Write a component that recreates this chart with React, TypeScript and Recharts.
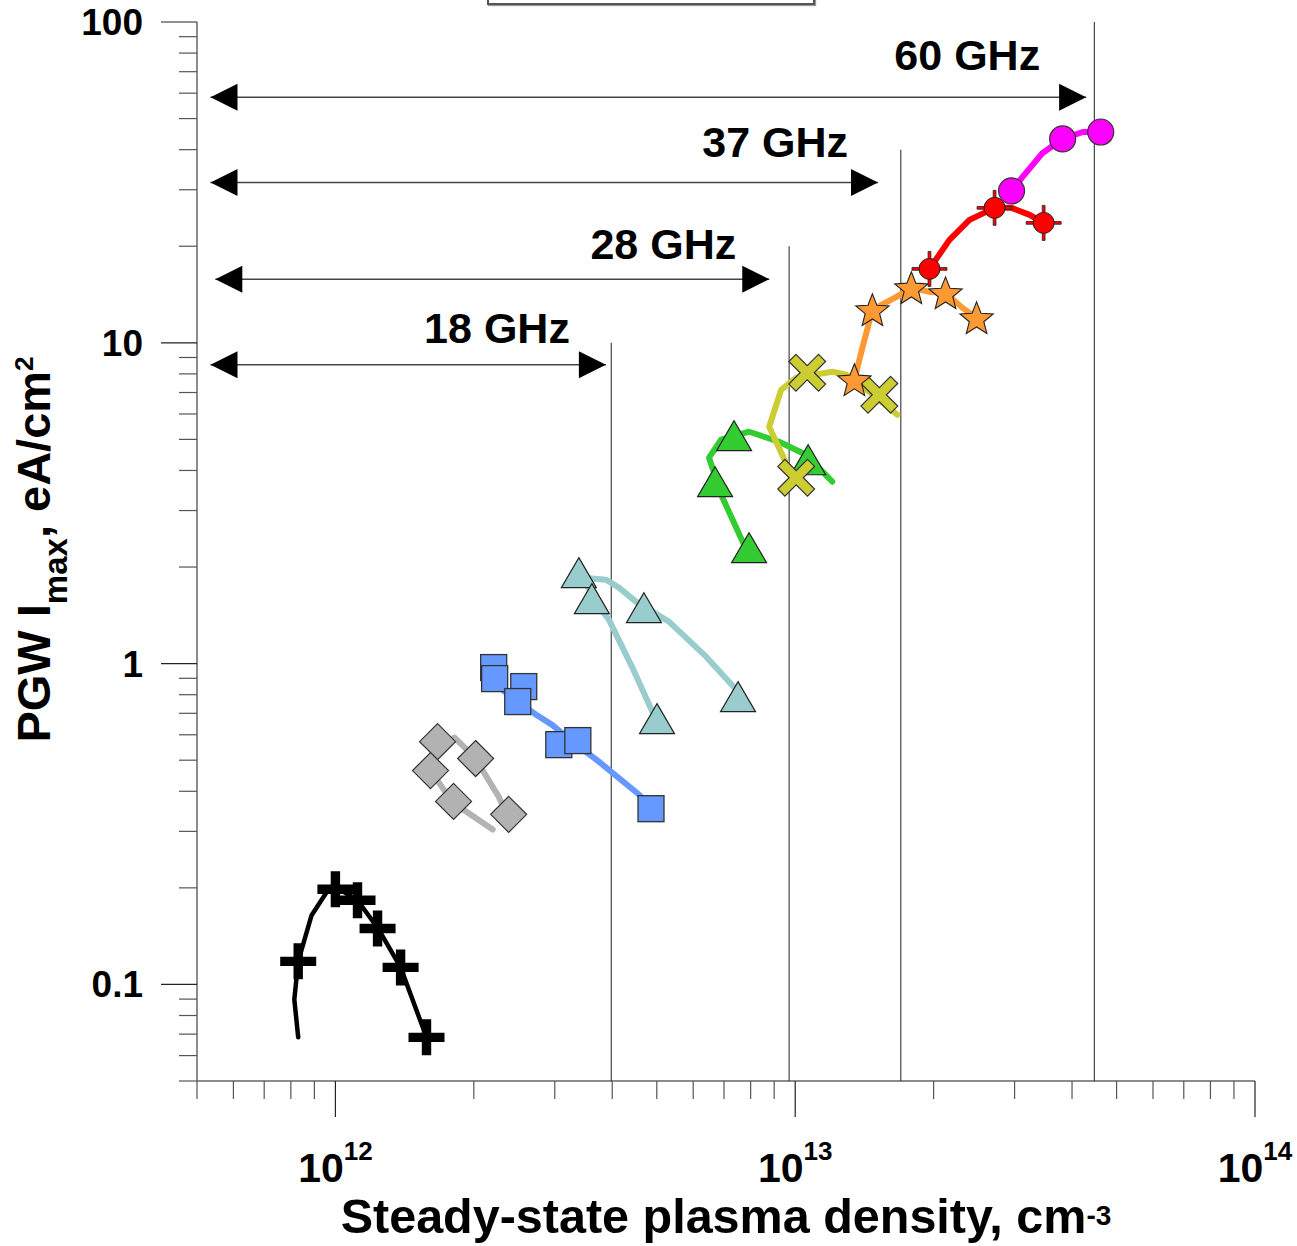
import React from 'react';
import { ComposedChart, Scatter, XAxis, YAxis } from 'recharts';

const FONT = '"Liberation Sans", Arial, Helvetica, sans-serif';

// ---------- axis ticks ----------
const xTicks = [
  5e11, 6e11, 7e11, 8e11, 9e11,
  1e12, 2e12, 3e12, 4e12, 5e12, 6e12, 7e12, 8e12, 9e12,
  1e13, 2e13, 3e13, 4e13, 5e13, 6e13, 7e13, 8e13, 9e13,
  1e14,
];
const yTicks = [
  0.05, 0.06, 0.07, 0.08, 0.09,
  0.1, 0.2, 0.3, 0.4, 0.5, 0.6, 0.7, 0.8, 0.9,
  1, 2, 3, 4, 5, 6, 7, 8, 9,
  10, 20, 30, 40, 50, 60, 70, 80, 90,
  100,
];

// ---------- cut-off frequencies ----------
const freqLabels = ['18 GHz', '28 GHz', '37 GHz', '60 GHz'];
const cutoffDensity = [3.98e12, 9.7e12, 1.697e13, 4.473e13];
const cutoffLineTop = [10, 20, 40, 100];
const arrowLevel = [8.54, 15.79, 31.6, 58.3];
const arrowStart = [5.35e11, 5.48e11, 5.35e11, 5.35e11];
const arrowEnd = [3.875e12, 8.78e12, 1.514e13, 4.293e13];
// label offsets relative to right arrow tip (pixels)
const labelDx = [-36, -33, -30, -46];
const labelDy = [-22, -20, -26, -27];

// ---------- data series (markers) ----------
const blackPts = [
  { x: 8.3e11, y: 0.118 }, { x: 1.0e12, y: 0.198 }, { x: 1.117e12, y: 0.183 },
  { x: 1.235e12, y: 0.1494 }, { x: 1.386e12, y: 0.113 }, { x: 1.578e12, y: 0.0684 },
];
const grayPts = [
  { x: 1.668e12, y: 0.571 }, { x: 2.018e12, y: 0.506 }, { x: 1.61e12, y: 0.464 },
  { x: 1.807e12, y: 0.372 }, { x: 2.381e12, y: 0.339 },
];
const bluePts = [
  { x: 2.209e12, y: 0.972 }, { x: 2.22e12, y: 0.898 }, { x: 2.568e12, y: 0.848 },
  { x: 2.492e12, y: 0.7615 }, { x: 3.061e12, y: 0.559 }, { x: 3.367e12, y: 0.5755 },
  { x: 4.857e12, y: 0.353 },
];
const cyanPts = [
  { x: 3.384e12, y: 1.921 }, { x: 3.612e12, y: 1.594 }, { x: 4.688e12, y: 1.494 },
  { x: 7.51e12, y: 0.789 }, { x: 5.005e12, y: 0.674 },
];
const greenPts = [
  { x: 7.362e12, y: 5.133 }, { x: 6.695e12, y: 3.69 }, { x: 7.937e12, y: 2.298 },
  { x: 1.067e13, y: 4.32 },
];
const yellowPts = [
  { x: 1.062e13, y: 8.065 }, { x: 1.524e13, y: 6.887 }, { x: 1.005e13, y: 3.797 },
];
const orangePts = [
  { x: 1.345e13, y: 7.668 }, { x: 1.472e13, y: 12.67 }, { x: 1.789e13, y: 14.84 },
  { x: 2.123e13, y: 14.31 }, { x: 2.48e13, y: 11.96 },
];
const redPts = [
  { x: 1.959e13, y: 17.0 }, { x: 2.714e13, y: 26.34 }, { x: 3.47e13, y: 23.65 },
];
const magentaPts = [
  { x: 2.955e13, y: 29.76 }, { x: 3.816e13, y: 43.2 }, { x: 4.618e13, y: 45.4 },
];

// ---------- fitted curves ----------
const blackLine = [
  { x: 8.3e11, y: 0.0684 }, { x: 8.14e11, y: 0.0898 }, { x: 8.3e11, y: 0.118 },
  { x: 8.87e11, y: 0.164 }, { x: 9.56e11, y: 0.1935 }, { x: 1.015e12, y: 0.199 },
  { x: 1.117e12, y: 0.183 }, { x: 1.24e12, y: 0.149 }, { x: 1.386e12, y: 0.113 },
  { x: 1.578e12, y: 0.0684 },
];
const grayLine = [
  { x: 2.198e12, y: 0.304 }, { x: 1.8e12, y: 0.369 }, { x: 1.61e12, y: 0.464 },
  { x: 1.677e12, y: 0.547 }, { x: 1.816e12, y: 0.588 }, { x: 2.009e12, y: 0.51 },
  { x: 2.265e12, y: 0.385 }, { x: 2.358e12, y: 0.339 },
];
const blueLine = [
  { x: 2.232e12, y: 0.86 }, { x: 2.492e12, y: 0.7615 }, { x: 2.728e12, y: 0.694 },
  { x: 2.955e12, y: 0.6455 }, { x: 3.234e12, y: 0.58 }, { x: 3.741e12, y: 0.495 },
  { x: 4.572e12, y: 0.391 }, { x: 4.857e12, y: 0.356 },
];
const cyanLine = [
  { x: 4.955e12, y: 0.679 }, { x: 4.414e12, y: 0.979 }, { x: 3.933e12, y: 1.371 },
  { x: 3.649e12, y: 1.582 }, { x: 3.47e12, y: 1.853 }, { x: 3.874e12, y: 1.827 },
  { x: 4.137e12, y: 1.725 }, { x: 4.503e12, y: 1.56 }, { x: 5.314e12, y: 1.352 },
  { x: 6.4e12, y: 1.051 }, { x: 7.437e12, y: 0.83 },
];
const greenLine = [
  { x: 7.937e12, y: 2.17 }, { x: 6.934e12, y: 3.313 }, { x: 6.496e12, y: 4.384 },
  { x: 6.899e12, y: 4.987 }, { x: 7.937e12, y: 5.282 }, { x: 9.228e12, y: 4.916 },
  { x: 1.056e13, y: 4.478 }, { x: 1.204e13, y: 3.69 },
];
const yellowLine = [
  { x: 9.703e12, y: 4.022 }, { x: 8.777e12, y: 5.474 }, { x: 9.322e12, y: 7.138 },
  { x: 1.005e13, y: 7.78 }, { x: 1.204e13, y: 8.124 }, { x: 1.292e13, y: 7.951 },
  { x: 1.428e13, y: 7.138 }, { x: 1.668e13, y: 5.968 },
];
const orangeLine = [
  { x: 1.345e13, y: 7.668 }, { x: 1.4e13, y: 9.647 }, { x: 1.472e13, y: 12.67 },
  { x: 1.66e13, y: 13.91 }, { x: 1.789e13, y: 14.84 }, { x: 1.959e13, y: 14.41 },
  { x: 2.123e13, y: 14.31 }, { x: 2.311e13, y: 12.85 }, { x: 2.48e13, y: 11.96 },
];
const redLine = [
  { x: 1.959e13, y: 17.0 }, { x: 2.165e13, y: 20.94 }, { x: 2.393e13, y: 24.16 },
  { x: 2.714e13, y: 26.34 }, { x: 2.955e13, y: 26.34 }, { x: 3.234e13, y: 25.05 },
  { x: 3.47e13, y: 23.65 },
];
const magentaLine = [
  { x: 2.955e13, y: 29.76 }, { x: 3.123e13, y: 32.89 }, { x: 3.452e13, y: 39.07 },
  { x: 3.816e13, y: 43.2 }, { x: 4.22e13, y: 45.4 }, { x: 4.618e13, y: 45.4 },
];

// ---------- derived tables ----------
const cutoffLines = cutoffDensity.map((c, i) => [
  { x: c, y: 0.05 },
  { x: c, y: cutoffLineTop[i] },
]);
const arrows = freqLabels.map((lab, i) => [
  { x: arrowStart[i], y: arrowLevel[i], dir: 'left', idx: i },
  { x: arrowEnd[i], y: arrowLevel[i], dir: 'right', idx: i, label: lab },
]);

// ---------- shapes ----------
const plusPath = (cx: number, cy: number, a: number, b: number) =>
  `M${cx - b},${cy - a}H${cx + b}V${cy - b}H${cx + a}V${cy + b}H${cx + b}V${cy + a}H${cx - b}V${cy + b}H${cx - a}V${cy - b}H${cx - b}Z`;

const NoShape = () => <g />;

const PlusShape = (p: any) => <path d={plusPath(p.cx, p.cy, 18, 4.7)} fill="#000" />;

const DiamondShape = (p: any) => {
  const r = 18;
  return (
    <polygon
      points={`${p.cx},${p.cy - r} ${p.cx + r},${p.cy} ${p.cx},${p.cy + r} ${p.cx - r},${p.cy}`}
      fill="#b2b2b2"
      stroke="#333"
      strokeWidth={1.2}
    />
  );
};

const SquareShape = (p: any) => (
  <rect x={p.cx - 13} y={p.cy - 13} width={26} height={26} fill="#6699ff" stroke="#333" strokeWidth={1.3} />
);

const makeTriangle = (fill: string) => (p: any) => (
  <polygon
    points={`${p.cx},${p.cy - 15} ${p.cx + 17.5},${p.cy + 15} ${p.cx - 17.5},${p.cy + 15}`}
    fill={fill}
    stroke="#222"
    strokeWidth={1.2}
    strokeLinejoin="miter"
  />
);
const CyanTri = makeTriangle('#99cccc');
const GreenTri = makeTriangle('#33cc33');

const XShape = (p: any) => (
  <path
    d={plusPath(0, 0, 21, 5)}
    transform={`translate(${p.cx},${p.cy}) rotate(45)`}
    fill="#cccc33"
    stroke="#333"
    strokeWidth={1.2}
  />
);

const StarShape = (p: any) => {
  const R = 17.5;
  const r = 7.6;
  const pts: string[] = [];
  for (let k = 0; k < 10; k++) {
    const ang = -Math.PI / 2 + (k * Math.PI) / 5;
    const rad = k % 2 === 0 ? R : r;
    pts.push(`${p.cx + rad * Math.cos(ang)},${p.cy + 1.5 + rad * Math.sin(ang)}`);
  }
  return <polygon points={pts.join(' ')} fill="#ff9933" stroke="#222" strokeWidth={1.1} />;
};

const RedShape = (p: any) => (
  <g>
    <path d={plusPath(p.cx, p.cy, 17.5, 1.4)} fill="#ff0000" stroke="#222" strokeWidth={0.8} />
    <circle cx={p.cx} cy={p.cy} r={10.5} fill="#ff0000" stroke="#222" strokeWidth={1} />
  </g>
);

const MagentaShape = (p: any) => (
  <circle cx={p.cx} cy={p.cy} r={13} fill="#ff00ff" stroke="#333" strokeWidth={1.2} />
);

const ArrowHead = (p: any) => {
  const { cx, cy, payload } = p;
  const L = 27;
  const h = 13.5;
  const left = payload.dir === 'left';
  const pts = left
    ? `${cx},${cy} ${cx + L},${cy - h} ${cx + L},${cy + h}`
    : `${cx},${cy} ${cx - L},${cy - h} ${cx - L},${cy + h}`;
  const i = payload.idx;
  return (
    <g>
      <polygon points={pts} fill="#000" />
      {!left && (
        <text
          x={cx + labelDx[i]}
          y={cy + labelDy[i]}
          textAnchor="end"
          fontFamily={FONT}
          fontWeight="bold"
          fontSize={43}
          fill="#000"
        >
          {payload.label}
        </text>
      )}
    </g>
  );
};

// ---------- ticks ----------
const isMajor = (v: number) => {
  const lg = Math.log10(v);
  return Math.abs(lg - Math.round(lg)) < 1e-6;
};

const XTick = (p: any) => {
  const { x, y, payload } = p;
  const v = payload.value;
  const major = isMajor(v);
  const exp = Math.round(Math.log10(v));
  return (
    <g>
      <line x1={x} x2={x} y1={y} y2={y + (major ? 36 : 18)} stroke={major ? '#222' : '#555'} strokeWidth={1.2} />
      {major && (
        <text x={x} y={y + 101} textAnchor="middle" fontFamily={FONT} fontWeight="bold" fontSize={41} fill="#000">
          10
          <tspan dy={-22} fontSize={26}>
            {exp}
          </tspan>
        </text>
      )}
    </g>
  );
};

const YTick = (p: any) => {
  const { x, y, payload } = p;
  const v = payload.value;
  const major = isMajor(v);
  return (
    <g>
      <line x1={x - (major ? 36 : 18)} x2={x} y1={y} y2={y} stroke={major ? '#222' : '#555'} strokeWidth={1.2} />
      {major && (
        <text x={x - 54} y={y + 13} textAnchor="end" fontFamily={FONT} fontWeight="bold" fontSize={37} fill="#000">
          {String(v)}
        </text>
      )}
    </g>
  );
};

const XTitle = (p: any) => {
  const vb = p.viewBox || { x: 197, y: 1081, width: 1058, height: 165 };
  return (
    <text
      x={vb.x + vb.width / 2}
      y={vb.y + 152}
      textAnchor="middle"
      fontFamily={FONT}
      fontWeight="bold"
      fontSize={48.5}
      fill="#000"
    >
      Steady-state plasma density, cm
      <tspan dy={-8} fontSize={28}>
        -3
      </tspan>
    </text>
  );
};

const YTitle = (p: any) => {
  const vb = p.viewBox || { x: 0, y: 22, width: 197, height: 1059 };
  const cy = vb.y + vb.height / 2 - 2;
  return (
    <text
      transform={`translate(50, ${cy}) rotate(-90)`}
      x={0}
      y={0}
      textAnchor="middle"
      fontFamily={FONT}
      fontWeight="bold"
      fontSize={47}
      fill="#000"
    >
      PGW I
      <tspan dy={17} fontSize={33}>
        max
      </tspan>
      <tspan dy={-17}>, eA/cm</tspan>
      <tspan dy={-17} fontSize={26}>
        2
      </tspan>
    </text>
  );
};

const series = [
  { line: blackLine, pts: blackPts, color: '#000000', width: 4.5, shape: PlusShape },
  { line: grayLine, pts: grayPts, color: '#b3b3b3', width: 6, shape: DiamondShape },
  { line: blueLine, pts: bluePts, color: '#6699ff', width: 6, shape: SquareShape },
  { line: cyanLine, pts: cyanPts, color: '#99cccc', width: 6, shape: CyanTri },
  { line: greenLine, pts: greenPts, color: '#33cc33', width: 6, shape: GreenTri },
  { line: yellowLine, pts: yellowPts, color: '#cccc33', width: 6, shape: XShape },
  { line: orangeLine, pts: orangePts, color: '#ff9933', width: 6, shape: StarShape },
  { line: redLine, pts: redPts, color: '#ff0000', width: 6, shape: RedShape },
  { line: magentaLine, pts: magentaPts, color: '#ff00ff', width: 6, shape: MagentaShape },
];

export default function App() {
  return (
    <div
      style={{
        position: 'absolute',
        left: 0,
        top: 0,
        width: 1297,
        height: 1246,
        background: '#fff',
        overflow: 'hidden',
      }}
    >
      <div
        style={{
          position: 'absolute',
          left: 487,
          top: -20,
          width: 324,
          height: 21,
          border: '2px solid #555',
          boxShadow: '1px 1px 1px #999',
          background: '#fff',
        }}
      />
      <ComposedChart width={1297} height={1246} margin={{ top: 22, right: 42, bottom: 0, left: 0 }}>
        <XAxis
          type="number"
          dataKey="x"
          scale="log"
          domain={[5e11, 1e14]}
          allowDataOverflow
          ticks={xTicks}
          interval={0}
          tickSize={0}
          tickMargin={0}
          tick={<XTick />}
          height={165}
          axisLine={{ stroke: '#666', strokeWidth: 1.5 }}
          tickLine={false}
          label={<XTitle />}
        />
        <YAxis
          type="number"
          dataKey="y"
          scale="log"
          domain={[0.05, 100]}
          allowDataOverflow
          ticks={yTicks}
          interval={0}
          tickSize={0}
          tickMargin={0}
          tick={<YTick />}
          width={197}
          axisLine={{ stroke: '#666', strokeWidth: 1.5 }}
          tickLine={false}
          label={<YTitle />}
        />
        {cutoffLines.map((d, i) => (
          <Scatter
            key={`cut${i}`}
            data={d}
            line={{ stroke: '#333', strokeWidth: 1.1 }}
            shape={NoShape}
            isAnimationActive={false}
          />
        ))}
        {arrows.map((d, i) => (
          <Scatter
            key={`arr${i}`}
            data={d}
            line={{ stroke: '#444', strokeWidth: 1.5 }}
            shape={ArrowHead}
            isAnimationActive={false}
          />
        ))}
        {series.map((s, i) => [
          <Scatter
            key={`l${i}`}
            data={s.line}
            line={{ stroke: s.color, strokeWidth: s.width, strokeLinejoin: 'round', strokeLinecap: 'round' }}
            shape={NoShape}
            isAnimationActive={false}
          />,
          <Scatter key={`p${i}`} data={s.pts} shape={s.shape} isAnimationActive={false} />,
        ])}
      </ComposedChart>
    </div>
  );
}
